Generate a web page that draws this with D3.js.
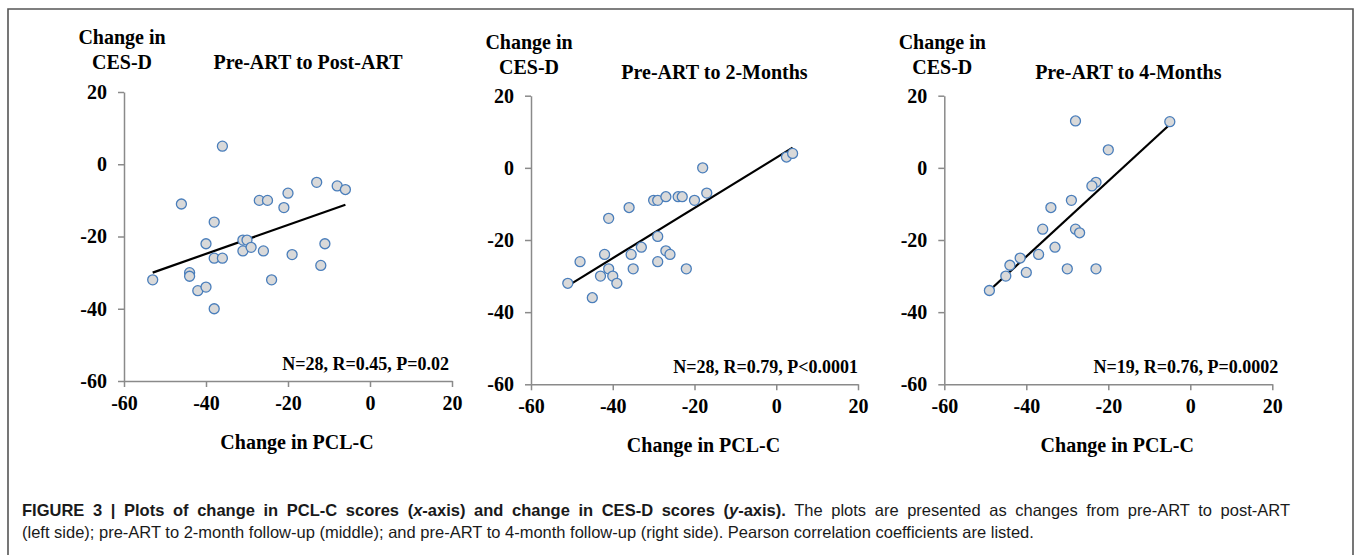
<!DOCTYPE html>
<html>
<head>
<meta charset="utf-8">
<script src="https://cdnjs.cloudflare.com/ajax/libs/d3/7.8.5/d3.min.js"></script>
<style>
  body { margin: 0; background: #fff; }
  svg { display: block; }
</style>
</head>
<body>
<svg id="svg" width="1354" height="555"></svg>
<script>
/* global d3 */

// values
const xTicks = [-60, -40, -20, 0, 20];
const yTicks = [20, 0, -20, -40, -60];

const postX = [-36, -46, -27, -25, -20, -21, -13, -8, -6, -38, -40, -31, -30, -31,
  -29, -26, -11, -19, -38, -36, -12, -44, -44, -53, -24, -42, -40, -38];
const postY = [5, -11, -10, -10, -8, -12, -5, -6, -7, -16, -22, -21, -21, -24,
  -23, -24, -22, -25, -26, -26, -28, -30, -31, -32, -32, -35, -34, -40];
const postFitX = [-53, -6];
const postFitY = [-30, -11.2];

const twoX = [-18, 2.5, 4, -36, -30, -29, -27, -24, -23, -20, -17, -41, -29, -33,
  -42, -35.5, -27, -26, -48, -29, -41, -35, -22, -43, -40, -39, -51, -45];
const twoY = [0, 3, 4, -11, -9, -9, -8, -8, -8, -9, -7, -14, -19, -22,
  -24, -24, -23, -24, -26, -26, -28, -28, -28, -30, -30, -32, -32, -36];
const twoFitX = [-51, 4];
const twoFitY = [-32.7, 5.6];

const fourX = [-28, -5, -20, -23, -24, -29, -34, -36, -28, -27, -33, -37, -41.5,
  -44, -40, -45, -30, -23, -49];
const fourY = [13, 12.8, 5, -4, -5, -9, -11, -17, -17, -18, -22, -24, -25,
  -27, -29, -30, -28, -28, -34];
const fourFitX = [-49, -5];
const fourFitY = [-34, 12];

const panelTitles = ["Pre-ART to Post-ART", "Pre-ART to 2-Months", "Pre-ART to 4-Months"];
const panelStats = ["N=28, R=0.45, P=0.02", "N=28, R=0.79, P<0.0001", "N=19, R=0.76, P=0.0002"];

const panels = [
  { xs: postX, ys: postY, fx: postFitX, fy: postFitY, left: 124, right: 452, top: 92, bottom: 381, yTitle: 37, title: 62, statDx: -3 },
  { xs: twoX, ys: twoY, fx: twoFitX, fy: twoFitY, left: 531, right: 858, top: 95.7, bottom: 384.3, yTitle: 41.7, title: 71.7, statDx: 0 },
  { xs: fourX, ys: fourY, fx: fourFitX, fy: fourFitY, left: 944.3, right: 1272.3, top: 95.7, bottom: 384.3, yTitle: 41.7, title: 71.7, statDx: 6 }
];

const svg = d3.select("#svg");
const serif = "'Liberation Serif', 'Times New Roman', serif";
const axisColor = "#8a8a8a";

// figure frame
svg.append("path")
  .attr("d", "M8,555 L8,9 L1353,9 L1353,555")
  .attr("fill", "none")
  .attr("stroke", "#555")
  .attr("stroke-width", 1.6);

panels.forEach((p, i) => {
  const x = d3.scaleLinear().domain([-60, 20]).range([p.left, p.right]);
  const y = d3.scaleLinear().domain([-60, 20]).range([p.bottom, p.top]);
  const g = svg.append("g");

  const xAxis = g.append("g")
    .attr("transform", `translate(0,${p.bottom})`)
    .call(d3.axisBottom(x).tickValues(xTicks).tickFormat(d => String(d))
      .tickSize(6).tickSizeOuter(0).tickPadding(6));
  const yAxis = g.append("g")
    .attr("transform", `translate(${p.left},0)`)
    .call(d3.axisLeft(y).tickValues(yTicks).tickFormat(d => String(d))
      .tickSize(6).tickSizeOuter(0).tickPadding(11));

  [xAxis, yAxis].forEach(a => {
    a.select(".domain").attr("stroke", axisColor).attr("stroke-width", 1.5);
    a.selectAll(".tick line").attr("stroke", axisColor).attr("stroke-width", 1.5);
    a.selectAll(".tick text")
      .attr("fill", "#000")
      .style("font-family", serif)
      .style("font-weight", "bold")
      .style("font-size", "20px");
  });
  xAxis.selectAll(".tick text").attr("dy", "0.85em");

  const pts = p.xs.map((v, k) => [v, p.ys[k]]);

  g.append("line")
    .attr("x1", x(p.fx[0]))
    .attr("y1", y(p.fy[0]))
    .attr("x2", x(p.fx[1]))
    .attr("y2", y(p.fy[1]))
    .attr("stroke", "#000")
    .attr("stroke-width", 2.2);

  g.selectAll("circle")
    .data(pts)
    .join("circle")
    .attr("cx", d => x(d[0]))
    .attr("cy", d => y(d[1]))
    .attr("r", 5)
    .attr("fill", "#d9d9d9")
    .attr("stroke", "#4a7ebb")
    .attr("stroke-width", 1.3);

  const label = (tx, ty, str, anchor, size) =>
    g.append("text")
      .attr("x", tx)
      .attr("y", ty)
      .attr("text-anchor", anchor)
      .attr("dominant-baseline", "central")
      .style("font-family", serif)
      .style("font-weight", "bold")
      .style("font-size", size + "px")
      .text(str);

  label(p.left - 2, p.yTitle, "Change in", "middle", 20);
  label(p.left - 2, p.yTitle + 25, "CES-D", "middle", 20);
  label((p.left + p.right) / 2 + 20, p.title, panelTitles[i], "middle", 20);
  label((p.left + p.right) / 2 + 9, p.bottom + 61, "Change in PCL-C", "middle", 20);
  label(p.right + p.statDx, p.bottom - 17, panelStats[i], "end", 18);
});

// caption
const sans = "'Liberation Sans', Arial, sans-serif";
const cap1 = svg.append("text")
  .attr("x", 22)
  .attr("y", 516)
  .style("font-family", sans)
  .style("font-size", "16.5px")
  .attr("fill", "#1a1a1a");
const bold = cap1.append("tspan").style("font-weight", "bold");
bold.append("tspan").text("FIGURE 3 | Plots of change in PCL-C scores (");
bold.append("tspan").style("font-style", "italic").text("x");
bold.append("tspan").text("-axis) and change in CES-D scores (");
bold.append("tspan").style("font-style", "italic").text("y");
bold.append("tspan").text("-axis).");
cap1.append("tspan").text(" The plots are presented as changes from pre-ART to post-ART");

// justify the first line like the printed caption
const lineWidth = 1268;
const spaces = cap1.text().split(" ").length - 1;
const extra = (lineWidth - cap1.node().getComputedTextLength()) / spaces;
cap1.style("word-spacing", extra + "px");

svg.append("text")
  .attr("x", 22)
  .attr("y", 538)
  .style("font-family", sans)
  .style("font-size", "16.5px")
  .attr("fill", "#1a1a1a")
  .text("(left side); pre-ART to 2-month follow-up (middle); and pre-ART to 4-month follow-up (right side). Pearson correlation coefficients are listed.");
</script>
</body>
</html>
